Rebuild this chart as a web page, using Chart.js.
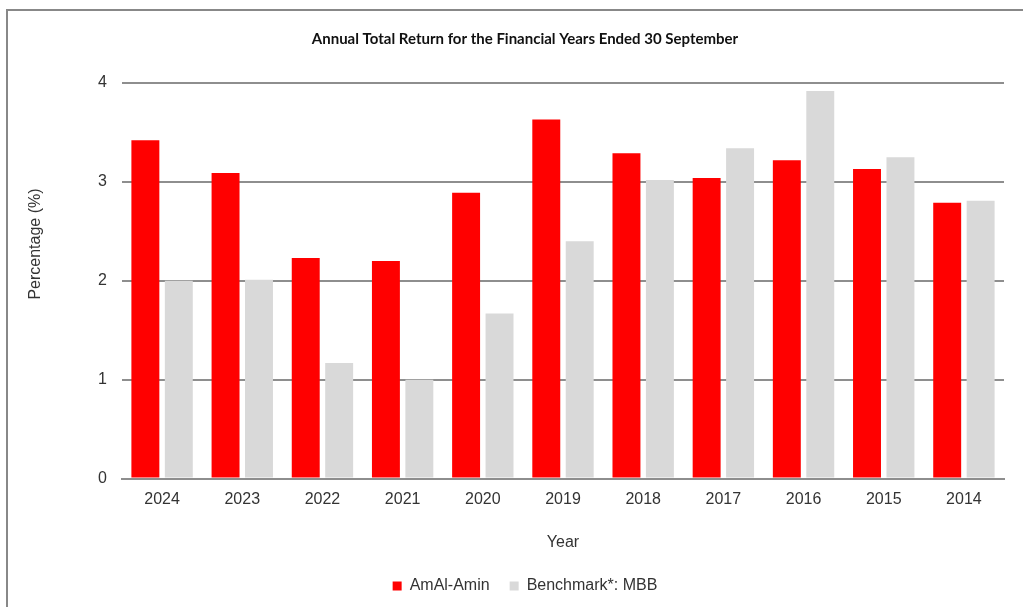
<!DOCTYPE html>
<html>
<head>
<meta charset="utf-8">
<script src="https://cdn.jsdelivr.net/npm/chart.js@4.4.1/dist/chart.umd.min.js"></script>
<style>
  html, body { margin: 0; padding: 0; background: #fff; overflow: hidden; }
  #frame {
    position: absolute; left: 6px; top: 9px; width: 1040px; height: 620px;
    border-left: 2px solid #888; border-top: 2px solid #888;
  }
  #wrap { position: absolute; left: 0; top: 0; width: 1023px; height: 607px; }
</style>
</head>
<body>
<div id="frame"></div>
<div id="wrap"><canvas id="returnChart"></canvas></div>
<script>
// data
const years = ["2024", "2023", "2022", "2021", "2020", "2019", "2018", "2017", "2016", "2015", "2014"];
const amAlAmin = [3.42, 3.09, 2.23, 2.2, 2.89, 3.63, 3.29, 3.04, 3.22, 3.13, 2.79];
const benchmark = [2.0, 2.01, 1.17, 1.0, 1.67, 2.4, 3.02, 3.34, 3.92, 3.25, 2.81];
const yTicks = [0, 1, 2, 3, 4];

const axisFont = "'Liberation Sans', Arial, sans-serif";
const textColor = "#333333";
const gridColor = "#8e8e8e";

// y axis title sits a bit above the plot middle, so draw it by hand
const yTitle = {
  id: "yTitle",
  afterDraw(chart) {
    const ctx = chart.ctx;
    ctx.save();
    ctx.translate(36, 244);
    ctx.rotate(-Math.PI / 2);
    ctx.font = "16px " + axisFont;
    ctx.fillStyle = textColor;
    ctx.textAlign = "center";
    ctx.textBaseline = "middle";
    ctx.fillText("Percentage (%)", 0, 0);
    ctx.restore();
  },
};

Chart.defaults.font.family = axisFont;
Chart.defaults.color = textColor;

const ctx = document.getElementById("returnChart").getContext("2d");
const returnChart = new Chart(ctx, {
  type: "bar",
  data: {
    labels: years,
    datasets: [
      {
        label: "AmAl-Amin",
        data: amAlAmin,
        backgroundColor: "#ff0000",
        borderWidth: 0,
      },
      {
        label: "Benchmark*: MBB",
        data: benchmark,
        backgroundColor: "#d9d9d9",
        borderWidth: 0,
      },
    ],
  },
  options: {
    responsive: true,
    maintainAspectRatio: false,
    animation: false,
    layout: { padding: { left: 46, right: 19, top: 0, bottom: 3 } },
    datasets: {
      bar: { categoryPercentage: 0.834, barPercentage: 0.836 },
    },
    plugins: {
      title: {
        display: true,
        text: "Annual Total Return for the Financial Years Ended 30 September",
        font: { family: "Lato, sans-serif", size: 15, weight: "bold" },
        color: "#111111",
        padding: { top: 30, bottom: 35 },
      },
      legend: {
        position: "bottom",
        labels: {
          boxWidth: 9,
          boxHeight: 9,
          padding: 20,
          font: { size: 16 },
          color: textColor,
        },
      },
      tooltip: { enabled: false },
    },
    scales: {
      x: {
        grid: { display: false, drawTicks: false },
        border: { display: true, color: gridColor, width: 2 },
        ticks: { padding: 11, font: { size: 16 }, color: textColor },
        title: {
          display: true,
          text: "Year",
          font: { size: 16 },
          color: textColor,
          padding: { top: 13, bottom: 6 },
        },
      },
      y: {
        min: 0,
        max: 4,
        afterFit(scale) { scale.width = 76; },
        afterBuildTicks(scale) { scale.ticks = yTicks.map((v) => ({ value: v })); },
        grid: { color: gridColor, lineWidth: 2, drawTicks: false },
        border: { display: false },
        ticks: { padding: 15, font: { size: 16 }, color: textColor },
      },
    },
  },
  plugins: [yTitle],
});
</script>
</body>
</html>
